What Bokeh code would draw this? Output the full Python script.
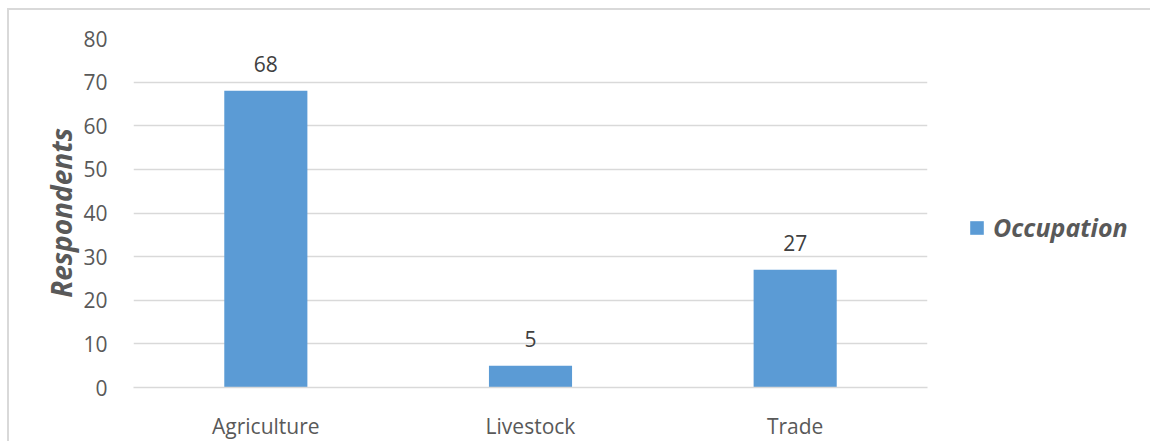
from bokeh.plotting import figure
from bokeh.layouts import row
from bokeh.models import (ColumnDataSource, LabelSet, Legend, LegendItem,
                          Range1d, FactorRange, FixedTicker)
from bokeh.core.properties import value
from bokeh.embed import file_html
from bokeh.resources import INLINE

categories = ["Agriculture", "Livestock", "Trade"]
respondents = [68, 5, 27]
y_ticks = [0, 10, 20, 30, 40, 50, 60, 70, 80]
series_name = "Occupation"
y_title = "Respondents"

FONT = "Open Sans"
BAR = "#5B9BD5"
GRID = "#d9d9d9"
TXT = "#595959"
BORDER = "2px solid #d9d9d9"

src = ColumnDataSource(dict(cat=categories, val=respondents,
                            lab=[str(v) for v in respondents]))

# main chart: canvas starts at x=9, y=10 (margin + border)
p = figure(x_range=FactorRange(*categories, range_padding=0),
           y_range=Range1d(0, 80),
           width=921, height=433,
           output_backend="svg", toolbar_location=None,
           min_border_left=124, min_border_right=3,
           min_border_top=28, min_border_bottom=56,
           margin=(8, 0, 0, 7))
p.styles = {"border-top": BORDER, "border-left": BORDER}
p.outline_line_color = None
p.background_fill_color = "white"
p.border_fill_color = "white"

r = p.vbar(x="cat", top="val", width=0.314, source=src, color=BAR, line_color=None)

p.yaxis.ticker = FixedTicker(ticks=y_ticks)
p.yaxis.axis_line_color = None
p.yaxis.major_tick_line_color = None
p.yaxis.minor_tick_line_color = None
p.yaxis.major_label_standoff = 20
p.yaxis.major_label_text_font = FONT
p.yaxis.major_label_text_font_size = "21px"
p.yaxis.major_label_text_color = TXT
p.yaxis.axis_label = y_title
p.yaxis.axis_label_text_font = FONT
p.yaxis.axis_label_text_font_size = "28px"
p.yaxis.axis_label_text_font_style = "bold italic"
p.yaxis.axis_label_text_color = TXT
p.yaxis.axis_label_standoff = 0

p.xaxis.axis_line_color = GRID
p.xaxis.axis_line_width = 1.5
p.xaxis.major_tick_line_color = None
p.xaxis.minor_tick_line_color = None
p.xaxis.major_label_standoff = 18
p.xaxis.major_label_text_font = FONT
p.xaxis.major_label_text_font_size = "21px"
p.xaxis.major_label_text_color = TXT

p.xgrid.grid_line_color = None
p.ygrid.grid_line_color = GRID
p.ygrid.grid_line_width = 1.5

labels = LabelSet(x="cat", y="val", text="lab", source=src, y_offset=19,
                  text_align="center", text_baseline="alphabetic",
                  text_font=value(FONT), text_font_size="21px",
                  text_color="#404040")
p.add_layout(labels)

# legend area to the right of the chart (canvas starts at x=930)
lg = figure(width=1152 - 930, height=433, output_backend="svg",
            toolbar_location=None, x_range=Range1d(0, 1), y_range=Range1d(0, 1),
            min_border=0, margin=(8, 0, 0, 0))
lg.styles = {"border-top": BORDER}
lg.axis.visible = False
lg.grid.visible = False
lg.outline_line_color = None
lg.background_fill_color = "white"
lg.border_fill_color = "white"
# series swatch source (kept outside the visible range, only feeds the legend)
leg_src = ColumnDataSource(dict(x=[5], top=[0]))
r_leg = lg.vbar(x="x", top="top", width=0.3, source=leg_src, color=BAR, line_color=None)

legend = Legend(items=[LegendItem(label=series_name, renderers=[r_leg])],
                location=(40, 143), orientation="vertical",
                padding=0, margin=0, border_line_color=None,
                background_fill_alpha=0, glyph_width=17, glyph_height=17,
                label_standoff=8, label_text_font=FONT,
                label_text_font_size="25px", label_text_font_style="bold italic",
                label_text_color=TXT, label_height=20)
lg.add_layout(legend, "center")

layout = row(p, lg, spacing=0)
open("out.html", "w").write(file_html(layout, INLINE))
